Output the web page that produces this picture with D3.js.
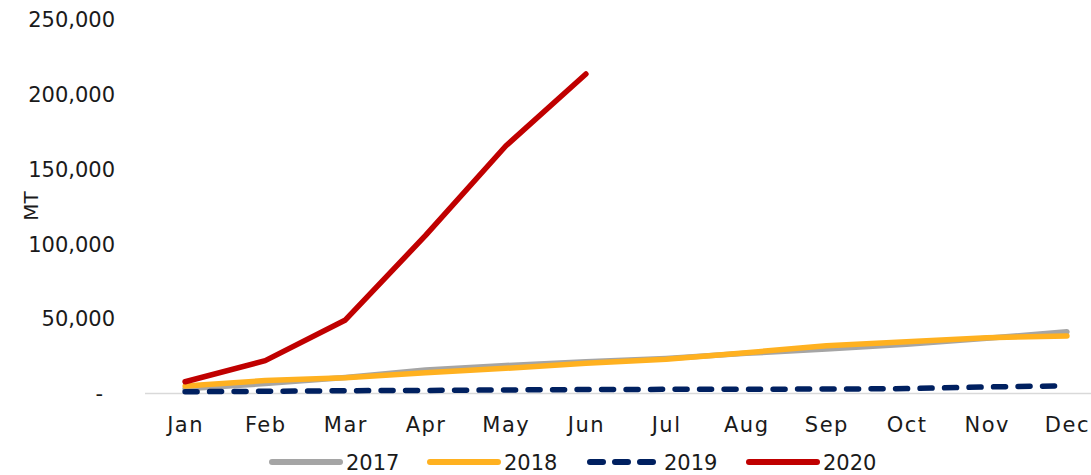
<!DOCTYPE html>
<html>
<head>
<meta charset="utf-8">
<script src="https://cdn.jsdelivr.net/npm/d3@7"></script>
<style>
  body { margin: 0; background: #fff; }
  svg { display: block; }
  svg text { font-family: "DejaVu Sans", sans-serif; fill: #1a1a1a; }
</style>
</head>
<body>
<svg id="chart"></svg>
<script>
const months = ['Jan', 'Feb', 'Mar', 'Apr', 'May', 'Jun', 'Jul', 'Aug', 'Sep', 'Oct', 'Nov', 'Dec'];
const years = ['2017', '2018', '2019', '2020'];
const yTicks = [0, 50000, 100000, 150000, 200000, 250000];

// monthly values, MT
const v2017 = [3500, 7000, 11000, 16000, 19000, 21500, 23800, 27200, 30000, 33200, 37200, 41600];
const v2018 = [5300, 9000, 10900, 14200, 17200, 20500, 23200, 27600, 32300, 35000, 37600, 38800];
const v2019 = [1500, 1800, 2200, 2400, 2700, 3000, 3100, 3200, 3300, 3600, 4700, 5500];
const v2020 = [8200, 22300, 49500, 106000, 165800, 213900];

const series = [
  { name: years[0], values: v2017, color: '#A5A5A5', dash: null },
  { name: years[1], values: v2018, color: '#FFB120', dash: null },
  { name: years[2], values: v2019, color: '#002060', dash: '12,12.5' },
  { name: years[3], values: v2020, color: '#C00000', dash: null }
];

const width = 1091, height = 475;
const svg = d3.select('#chart').attr('width', width).attr('height', height);

const x = d3.scalePoint()
  .domain(months)
  .range([145, 1107])
  .padding(0.5);

const y = d3.scaleLinear()
  .domain([0, 250000])
  .range([394, 20]);

// baseline
svg.append('line')
  .attr('x1', 145).attr('x2', width)
  .attr('y1', y(0) - 0.5).attr('y2', y(0) - 0.5)
  .attr('stroke', '#D9D9D9')
  .attr('stroke-width', 1.5);

const yAxis = svg.append('g')
  .attr('transform', 'translate(145,0)')
  .call(d3.axisLeft(y)
    .tickValues(yTicks)
    .tickSize(0)
    .tickPadding(30)
    .tickFormat(d => d === 0 ? '-' : d3.format(',')(d)));
yAxis.attr('font-family', null);
yAxis.select('.domain').remove();
yAxis.selectAll('text').style('font-size', '21px');
yAxis.selectAll('.tick').filter(d => d === 0).select('text').attr('dx', '-12');

const xAxis = svg.append('g')
  .attr('transform', `translate(0,${y(0)})`)
  .call(d3.axisBottom(x).tickSize(0).tickPadding(23));
xAxis.attr('font-family', null);
xAxis.select('.domain').remove();
xAxis.selectAll('text').style('font-size', '21px').style('letter-spacing', '1.5px');

svg.append('text')
  .attr('transform', 'translate(38,206) rotate(-90)')
  .attr('text-anchor', 'middle')
  .style('font-size', '20px')
  .text('MT');

const line = d3.line()
  .x((d, i) => x(months[i]))
  .y(d => y(d));

svg.selectAll('path.series')
  .data(series)
  .enter()
  .append('path')
  .attr('class', 'series')
  .attr('d', d => line(d.values))
  .attr('fill', 'none')
  .attr('stroke', d => d.color)
  .attr('stroke-width', 5.5)
  .attr('stroke-linecap', 'round')
  .attr('stroke-linejoin', 'round')
  .attr('stroke-dasharray', d => d.dash);

// legend
const legendX = [270, 428, 588, 747];
const legend = svg.selectAll('g.legend')
  .data(series)
  .enter()
  .append('g')
  .attr('class', 'legend')
  .attr('transform', (d, i) => `translate(${legendX[i]},462)`);

legend.append('line')
  .attr('x1', 2).attr('x2', 70)
  .attr('stroke', d => d.color)
  .attr('stroke-width', 6)
  .attr('stroke-linecap', 'round')
  .attr('stroke-dasharray', d => d.dash ? '13,12' : null);

legend.append('text')
  .attr('x', 76)
  .attr('y', 8)
  .style('font-size', '21px')
  .text(d => d.name);
</script>
</body>
</html>
